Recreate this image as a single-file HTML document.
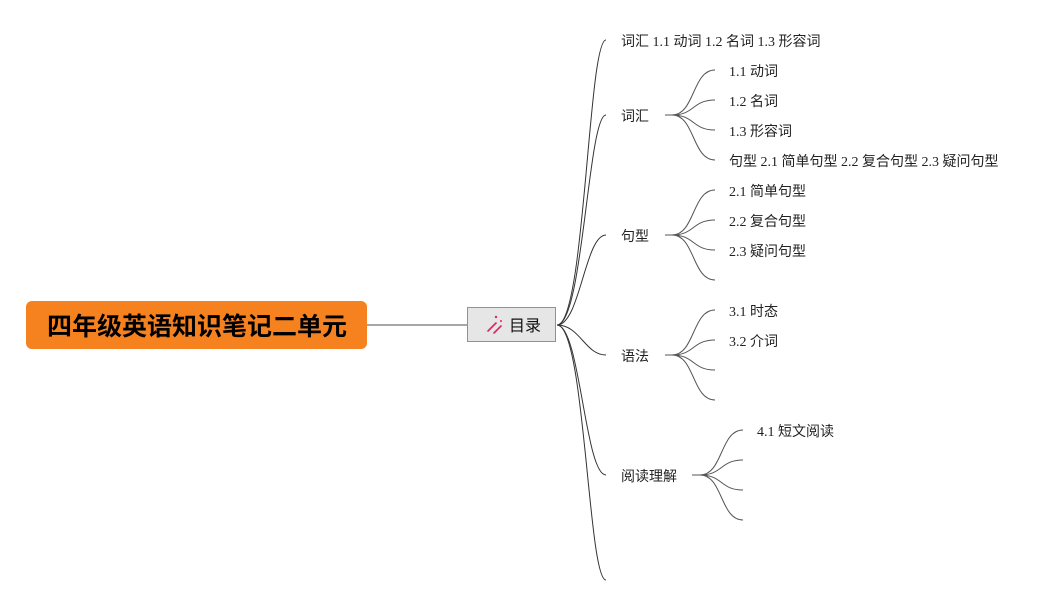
<!DOCTYPE html>
<html><head><meta charset="utf-8"><style>
html,body{margin:0;padding:0;background:#fff;}
svg{display:block;}
text{font-family:"Liberation Serif","Noto Sans CJK SC",serif;font-size:14px;fill:#222;}
</style></head><body>
<svg width="1059" height="605" viewBox="0 0 1059 605" xmlns="http://www.w3.org/2000/svg">
<g fill="none" stroke="#333" stroke-width="1">
<path d="M557,325 C585,325 588,40 606,40"/>
<path d="M557,325 C583,325 588,115 606,115"/>
<path d="M557,325 C580,325 585,235 606,235"/>
<path d="M557,325 C580,325 585,355 606,355"/>
<path d="M557,325 C580,325 585,475 606,475"/>
<path d="M557,325 C585,325 588,580 606,580"/>
</g>
<g fill="none" stroke="#555" stroke-width="1">
<path d="M665,115 H672 C695,115 692,70 715,70 M672,115 C695,115 692,100 715,100 M672,115 C695,115 692,130 715,130 M672,115 C695,115 692,160 715,160"/>
<path d="M665,235 H672 C695,235 692,190 715,190 M672,235 C695,235 692,220 715,220 M672,235 C695,235 692,250 715,250 M672,235 C695,235 692,280 715,280"/>
<path d="M665,355 H672 C695,355 692,310 715,310 M672,355 C695,355 692,340 715,340 M672,355 C695,355 692,370 715,370 M672,355 C695,355 692,400 715,400"/>
<path d="M692,475 H700 C723,475 720,430 743,430 M700,475 C723,475 720,460 743,460 M700,475 C723,475 720,490 743,490 M700,475 C723,475 720,520 743,520"/>
</g>
<line x1="367" y1="325" x2="467" y2="325" stroke="#888" stroke-width="1.5"/>
<rect x="26" y="301" width="341" height="48" rx="6" fill="#f5821f"/>
<text x="197" y="335" text-anchor="middle" style="font-family:'Liberation Sans','Noto Sans CJK SC',sans-serif;font-size:25px;font-weight:bold;fill:#000">四年级英语知识笔记二单元</text>
<rect x="467.5" y="307.5" width="88" height="34" fill="#e6e6e6" stroke="#6fa58f" stroke-width="1"/>
<g stroke="#e0245e" stroke-width="1.6" stroke-linecap="round"><line x1="488" y1="331" x2="496" y2="323"/><line x1="494" y1="333" x2="501" y2="326"/></g>
<circle cx="496" cy="317" r="1.2" fill="#e0245e"/><circle cx="501" cy="321" r="1" fill="#e0245e"/>
<text x="509" y="331" style="font-family:'Liberation Sans','Noto Sans CJK SC',sans-serif;font-size:16px;fill:#111">目录</text>
<text x="621" y="46">词汇 1.1 动词 1.2 名词 1.3 形容词</text>
<text x="621" y="121">词汇</text>
<text x="729" y="76">1.1 动词</text>
<text x="729" y="106">1.2 名词</text>
<text x="729" y="136">1.3 形容词</text>
<text x="729" y="166">句型 2.1 简单句型 2.2 复合句型 2.3 疑问句型</text>
<text x="621" y="241">句型</text>
<text x="729" y="196">2.1 简单句型</text>
<text x="729" y="226">2.2 复合句型</text>
<text x="729" y="256">2.3 疑问句型</text>
<text x="621" y="361">语法</text>
<text x="729" y="316">3.1 时态</text>
<text x="729" y="346">3.2 介词</text>
<text x="621" y="481">阅读理解</text>
<text x="757" y="436">4.1 短文阅读</text>
</svg>
</body></html>
